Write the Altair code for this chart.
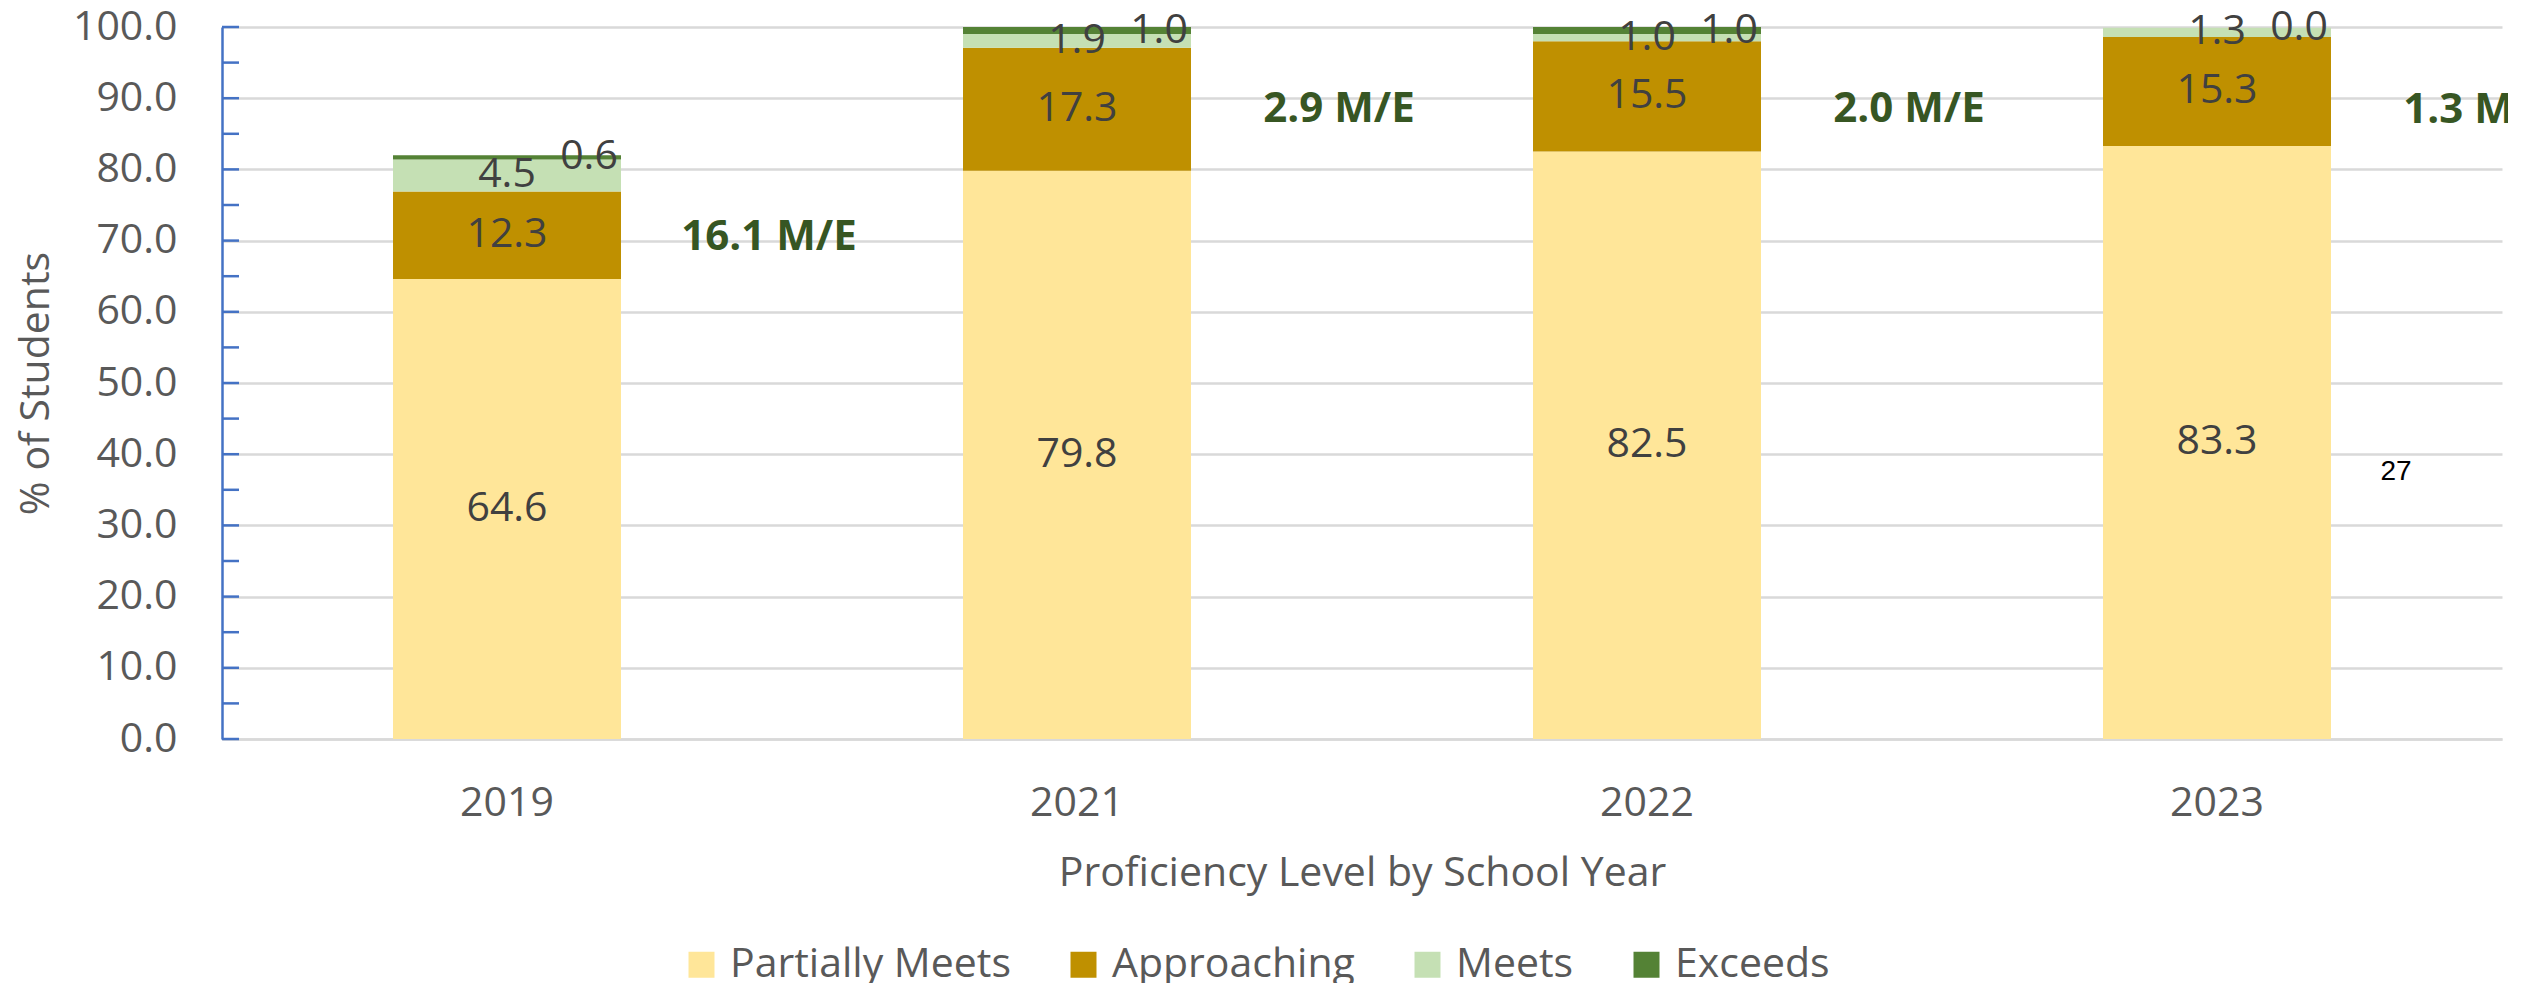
import altair as alt
import pandas as pd

years = ["2019", "2021", "2022", "2023"]
levels = ["Partially Meets", "Approaching", "Meets", "Exceeds"]
partially_meets = [64.6, 79.8, 82.5, 83.3]
approaching = [12.3, 17.3, 15.5, 15.3]
meets = [4.5, 1.9, 1.0, 1.3]
exceeds = [0.6, 1.0, 1.0, 0.0]
me_labels = ["16.1 M/E", "2.9 M/E", "2.0 M/E", "1.3 M/E"]
colors = ["#FFE699", "#BF9000", "#C5E0B4", "#548235"]
major_ticks = [0, 10, 20, 30, 40, 50, 60, 70, 80, 90, 100]
all_ticks = [0, 5, 10, 15, 20, 25, 30, 35, 40, 45, 50, 55, 60, 65, 70, 75, 80, 85, 90, 95, 100]
page_number = "27"

FONT = "Open Sans"
GREY = "#595959"

rows = []
for i, yr in enumerate(years):
    base = 0.0
    for lvl, vals in zip(levels, [partially_meets, approaching, meets, exceeds]):
        v = vals[i]
        rows.append(dict(year=yr, level=lvl, value=v, y0=base, y1=base + v, mid=base + v / 2))
        base += v
df = pd.DataFrame(rows)

me_df = pd.DataFrame({
    "year": years,
    "label": me_labels,
    "y": [pm + a + m + e for pm, a, m, e in zip(partially_meets, approaching, meets, exceeds)],
})
tick_df = pd.DataFrame({"t": all_ticks})
page_df = pd.DataFrame({"year": ["2023"], "y": [37.5], "t": [page_number]})

x_scale = alt.Scale(domain=years, paddingInner=0.6, paddingOuter=0.3)
y_scale = alt.Scale(domain=[0, 100], nice=False)

x_axis = alt.Axis(
    title="Proficiency Level by School Year", labelAngle=0, ticks=False, tickSize=0,
    labelFont=FONT, labelFontSize=41, labelColor=GREY, labelBaseline="alphabetic",
    labelPadding=76, domainColor="#D9D9D9", domainWidth=2.5, grid=False,
    titleFont=FONT, titleFontSize=41, titleFontWeight="normal", titleColor=GREY,
    titleBaseline="alphabetic", titleY=146, titleX=1140, titleAlign="center")
y_axis = alt.Axis(
    title="% of Students", values=major_ticks, format=".1f", ticks=False, tickSize=0,
    labelFont=FONT, labelFontSize=41, labelColor=GREY, labelPadding=45,
    domainColor="#4472C4", domainWidth=2.5, grid=True, gridColor="#D9D9D9", gridWidth=2.5,
    titleFont=FONT, titleFontSize=41, titleFontWeight="normal", titleColor=GREY,
    titleAngle=270, titleX=-174, titleY=356, titleAlign="center", titleBaseline="alphabetic")


def X(field):
    return alt.X(field, scale=x_scale, sort=years, axis=x_axis)


def Y(field):
    return alt.Y(field, scale=y_scale, axis=y_axis)


bars = alt.Chart(df).mark_bar(strokeWidth=0).encode(
    x=X("year:N"),
    y=Y("y0:Q"),
    y2="y1:Q",
    color=alt.Color("level:N", scale=alt.Scale(domain=levels, range=colors), legend=alt.Legend(
        title=None, orient="none", legendX=459, legendY=917, direction="horizontal",
        symbolType="square", symbolSize=676, symbolStrokeWidth=0, symbolOpacity=1,
        labelFont=FONT, labelFontSize=41, labelColor=GREY, labelOffset=8, labelLimit=600,
        columnPadding=52)),
)

ticks = alt.Chart(tick_df).mark_rule(color="#4472C4", strokeWidth=2.5).encode(
    y=Y("t:Q"),
    x=alt.value(0), x2=alt.value(17),
)

text_main = alt.Chart(df).transform_filter(alt.datum.level != "Exceeds").mark_text(
    font=FONT, fontSize=41, color="#404040", baseline="middle").encode(
    x=X("year:N"), y=Y("mid:Q"),
    text=alt.Text("value:Q", format=".1f"))

text_exc = alt.Chart(df).transform_filter(alt.datum.level == "Exceeds").mark_text(
    font=FONT, fontSize=41, color="#404040", baseline="middle", dx=82).encode(
    x=X("year:N"), y=Y("mid:Q"),
    text=alt.Text("value:Q", format=".1f"))

me_text = alt.Chart(me_df).mark_text(
    font=FONT, fontSize=42, fontWeight="bold", color="#375623", baseline="middle",
    dx=262, dy=82).encode(
    x=X("year:N"), y=Y("y:Q"), text="label:N")

page_text = alt.Chart(page_df).mark_text(
    font="Liberation Sans", fontSize=28, color="#000000", baseline="middle", dx=179).encode(
    x=X("year:N"), y=Y("y:Q"), text="t:N")

chart = alt.layer(bars, ticks, text_main, text_exc, me_text, page_text).properties(
    width=2280, height=712,
    autosize=alt.AutoSizeParams(type="none"),
    padding={"left": 214, "top": 19, "right": 6, "bottom": 244},
).configure_view(strokeWidth=0)

chart.save("out.html", embed_options={"renderer": "svg", "actions": False})
